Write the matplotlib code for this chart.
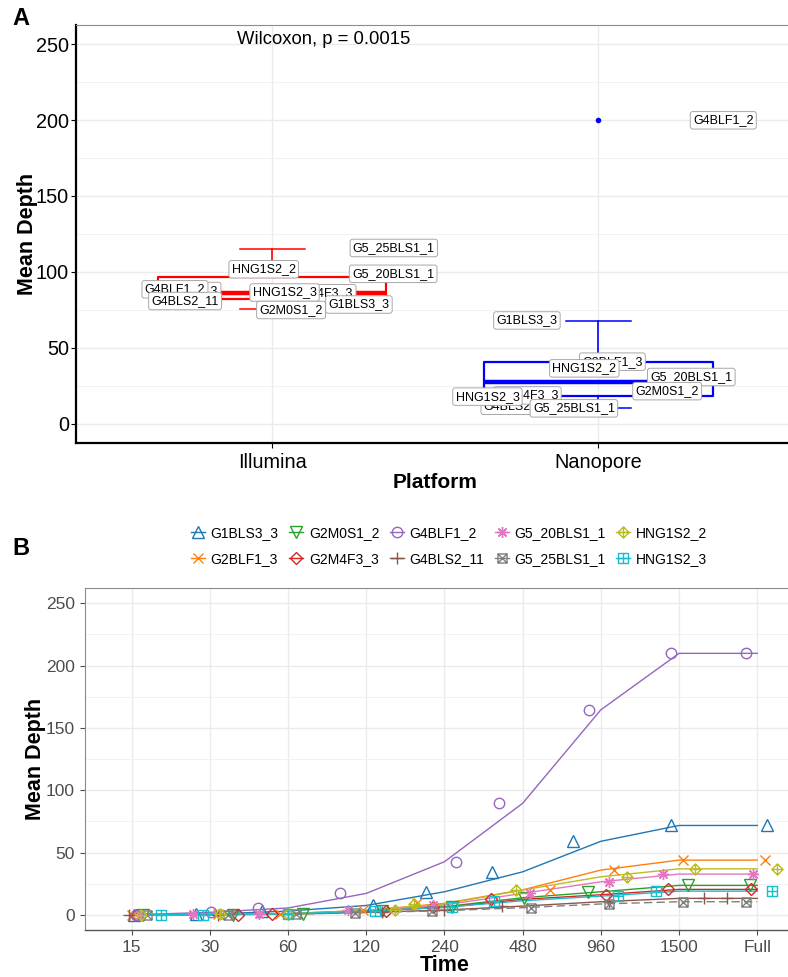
import matplotlib.pyplot as plt
import numpy as np
from matplotlib.path import Path
from matplotlib.lines import Line2D

plt.rcParams['font.family'] = ['Liberation Sans', 'DejaVu Sans']

# ---------------- Panel A data ----------------
platforms = ['Illumina', 'Nanopore']
box_q1 = [82.4, 18.6]
box_med = [86.4, 27.4]
box_q3 = [96.7, 40.6]
whisk_lo = [75.7, 10.5]
whisk_hi = [115.3, 68.0]
outliers = [[], [200.0]]
p_text = 'Wilcoxon, p = 0.0015'

# repelled sample labels: text, platform index, label position (data coords)
illumina_labels = ['G2BLF1_3', 'G2M4F3_3', 'G5_25BLS1_1', 'HNG1S2_2', 'G5_20BLS1_1',
                   'G4BLF1_2', 'G4BLS2_11', 'HNG1S2_3', 'G1BLS3_3', 'G2M0S1_2']
illumina_lab_x = [0.742, 1.153, 1.373, 0.974, 1.371, 0.702, 0.733, 1.038, 1.266, 1.058]
illumina_lab_y = [87.5, 86.0, 115.8, 101.8, 98.8, 88.6, 80.9, 86.5, 78.6, 75.0]
nanopore_labels = ['G4BLS2_11', 'G2M4F3_3', 'G2BLF1_3', 'G4BLF1_2', 'G1BLS3_3',
                   'HNG1S2_2', 'G5_20BLS1_1', 'G2M0S1_2', 'HNG1S2_3', 'G5_25BLS1_1']
nanopore_lab_x = [1.752, 1.782, 2.043, 2.383, 1.781, 1.957, 2.285, 2.211, 1.660, 1.925]
nanopore_lab_y = [12.0, 18.8, 41.0, 199.8, 68.1, 36.6, 30.9, 21.6, 18.0, 10.3]

# ---------------- Panel B data ----------------
times = ['15', '30', '60', '120', '240', '480', '960', '1500', 'Full']
samples = ['G1BLS3_3', 'G2BLF1_3', 'G2M0S1_2', 'G2M4F3_3', 'G4BLF1_2',
           'G4BLS2_11', 'G5_20BLS1_1', 'G5_25BLS1_1', 'HNG1S2_2', 'HNG1S2_3']
g1bls3_3 = [0, 0.5, 3, 7.5, 18.5, 34.5, 59, 71.7, 71.7]
g2blf1_3 = [0, 0.3, 1, 3.5, 9.2, 20, 35.9, 43.9, 43.9]
g2m0s1_2 = [0, 0.2, 0.8, 3, 6.5, 13.7, 18.5, 23.6, 23.6]
g2m4f3_3 = [0, 0.2, 0.8, 3, 6, 12.4, 16.1, 20.4, 20.4]
g4blf1_2 = [0, 2, 5.5, 17.2, 42.6, 89.5, 164.5, 209.8, 209.8]
g4bls2_11 = [0, 0.1, 0.5, 2, 3.8, 7, 10.5, 13.2, 13.2]
g5_20bls1_1 = [0, 0.3, 1, 3.5, 7.9, 17.2, 26.5, 32.7, 32.7]
g5_25bls1_1 = [0, 0.1, 0.5, 1.8, 3.3, 5.7, 8.7, 10.5, 10.5]
hng1s2_2 = [0, 0.3, 1, 3.5, 8.7, 19.9, 30.5, 36.9, 36.9]
hng1s2_3 = [0, 0.2, 0.8, 3, 6, 11.3, 15, 19, 19]
depths = [g1bls3_3, g2blf1_3, g2m0s1_2, g2m4f3_3, g4blf1_2,
          g4bls2_11, g5_20bls1_1, g5_25bls1_1, hng1s2_2, hng1s2_3]

# horizontal jitter of the points (category units)
jit_g1bls3_3 = [0.03, -0.18, -0.34, 0.08, -0.24, -0.39, -0.35, -0.10, 0.13]
jit_g2blf1_3 = [0.0, 0.1, -0.1, -0.04, -0.35, 0.35, 0.17, 0.05, 0.10]
jit_g2m0s1_2 = [0.14, 0.30, 0.19, 0.2, 0.1, 0.02, -0.16, 0.12, -0.09]
jit_g2m4f3_3 = [0.05, 0.36, -0.2, 0.25, -0.15, -0.40, 0.06, -0.14, -0.08]
jit_g4blf1_2 = [0.05, 0.02, -0.39, -0.34, 0.15, -0.30, -0.15, -0.10, -0.15]
jit_g4bls2_11 = [-0.03, 0.1, 0.0, 0.2, 0.0, -0.26, 0.1, 0.32, -0.39]
jit_g5_20bls1_1 = [0.1, -0.22, -0.37, -0.23, -0.15, 0.10, 0.10, -0.20, -0.05]
jit_g5_25bls1_1 = [0.2, 0.23, 0.1, -0.14, -0.16, 0.11, 0.10, 0.05, -0.14]
jit_hng1s2_2 = [0.12, 0.13, 0.0, 0.37, -0.39, -0.08, 0.33, 0.20, 0.25]
jit_hng1s2_3 = [0.37, -0.09, 0.0, 0.11, 0.1, -0.37, 0.22, -0.30, 0.19]
jitters = [jit_g1bls3_3, jit_g2blf1_3, jit_g2m0s1_2, jit_g2m4f3_3, jit_g4blf1_2,
           jit_g4bls2_11, jit_g5_20bls1_1, jit_g5_25bls1_1, jit_hng1s2_2, jit_hng1s2_3]

# ---------------- marker shapes ----------------
M, L, C = Path.MOVETO, Path.LINETO, Path.CLOSEPOLY
sq_cross = Path([(-1, -1), (1, -1), (1, 1), (-1, 1), (-1, -1), (-1, -1), (1, 1), (-1, 1), (1, -1)],
                [M, L, L, L, C, M, L, M, L])
sq_plus = Path([(-1, -1), (1, -1), (1, 1), (-1, 1), (-1, -1), (0, -1), (0, 1), (-1, 0), (1, 0)],
               [M, L, L, L, C, M, L, M, L])
dia_plus = Path([(0, -1), (1, 0), (0, 1), (-1, 0), (0, -1), (0, -1), (0, 1), (-1, 0), (1, 0)],
                [M, L, L, L, C, M, L, M, L])
markers = ['^', 'x', 'v', 'D', 'o', '+', (8, 2, 0), sq_cross, dia_plus, sq_plus]
msizes = [8, 7.5, 8, 6.5, 7.5, 9, 8, 6.5, 8, 6.5]
colors = ['#1f77b4', '#ff7f0e', '#2ca02c', '#d62728', '#9467bd',
          '#8c564b', '#e377c2', '#7f7f7f', '#bcbd22', '#17becf']

fig = plt.figure(figsize=(7.88, 9.77), dpi=100)

# ================= Panel A =================
axA = fig.add_axes([0.0970, 0.5466, 0.9107, 0.4278])
box_colors = ['#FF0000', '#0000FF']
for i in range(2):
    c = box_colors[i]
    stats = [dict(med=box_med[i], q1=box_q1[i], q3=box_q3[i],
                  whislo=whisk_lo[i], whishi=whisk_hi[i], fliers=outliers[i])]
    axA.bxp(stats, positions=[i + 1], widths=0.7, capwidths=0.2, patch_artist=False,
            boxprops=dict(color=c, lw=1.6), medianprops=dict(color=c, lw=3.2),
            whiskerprops=dict(color=c, lw=1.2), capprops=dict(color=c, lw=1.1),
            flierprops=dict(marker='o', markerfacecolor=c, markeredgecolor=c, markersize=3),
            manage_ticks=False)

lab_box = dict(boxstyle='round,pad=0.22,rounding_size=0.2', fc='white', ec='#A8A8A8', lw=0.7)
for k, (t, x, y) in enumerate(zip(illumina_labels, illumina_lab_x, illumina_lab_y)):
    axA.text(x, y, t, ha='center', va='center', fontsize=9, bbox=lab_box, zorder=5 + k)
for k, (t, x, y) in enumerate(zip(nanopore_labels, nanopore_lab_x, nanopore_lab_y)):
    axA.text(x, y, t, ha='center', va='center', fontsize=9, bbox=lab_box, zorder=5 + k)

axA.text(0.893, 253, p_text, ha='left', va='center', fontsize=13.3)

axA.set_xlim(0.4, 2.6)
axA.set_ylim(-12.5, 262.5)
axA.set_xticks([1, 2])
axA.set_xticklabels(platforms)
axA.set_yticks(np.arange(0, 251, 50))
axA.set_yticks(np.arange(25, 251, 50), minor=True)
axA.grid(True, which='major', color='#EBEBEB', lw=1.0)
axA.grid(True, which='minor', axis='y', color='#F2F2F2', lw=0.7)
axA.set_axisbelow(True)
axA.tick_params(axis='both', labelsize=14.3, colors='black', length=3.5, width=0.8)
axA.tick_params(axis='y', which='minor', length=0)
axA.tick_params(axis='y', pad=2)
for s in ['left', 'bottom']:
    axA.spines[s].set_color('black')
    axA.spines[s].set_linewidth(1.6)
axA.spines['top'].set_color('#8C8C8C')
axA.spines['top'].set_linewidth(0.8)
axA.spines['right'].set_visible(False)
axA.set_xlabel('Platform', fontsize=15, fontweight='bold', labelpad=1)
axA.set_ylabel('Mean Depth', fontsize=15.5, fontweight='bold', labelpad=-2)
fig.text(0.016, 0.981, 'A', fontsize=17, fontweight='bold', va='center')

# ================= Panel B =================
axB = fig.add_axes([0.1076, 0.0477, 0.9129, 0.3508])
xpos = np.arange(1, len(times) + 1)
for s, vals, jit, m, ms, c in zip(samples, depths, jitters, markers, msizes, colors):
    ls = (0, (6, 3)) if s == 'G5_25BLS1_1' else '-'
    axB.plot(xpos, vals, color=c, lw=1.0, ls=ls, zorder=2)
    axB.plot(xpos + np.array(jit), vals, ls='none', marker=m, markersize=ms,
             mfc='none', mec=c, mew=1.0, zorder=3)

axB.set_xlim(0.4, len(times) + 0.6)
axB.set_ylim(-12.5, 262.5)
axB.set_xticks(xpos)
axB.set_xticklabels(times)
axB.set_yticks(np.arange(0, 251, 50))
axB.set_yticks(np.arange(25, 251, 50), minor=True)
axB.grid(True, which='major', color='#EBEBEB', lw=1.0)
axB.grid(True, which='minor', axis='y', color='#F2F2F2', lw=0.7)
axB.set_axisbelow(True)
axB.tick_params(axis='both', labelsize=12.5, labelcolor='#4D4D4D', color='#4D4D4D',
                length=3.5, width=0.8)
axB.tick_params(axis='y', which='minor', length=0)
for s in ['left', 'top', 'right']:
    axB.spines[s].set_color('#8C8C8C')
    axB.spines[s].set_linewidth(0.8)
axB.spines['bottom'].set_color('#555555')
axB.spines['bottom'].set_linewidth(1.0)
axB.set_xlabel('Time', fontsize=15.5, fontweight='bold', labelpad=0)
axB.set_ylabel('Mean Depth', fontsize=15.5, fontweight='bold', labelpad=0)
fig.text(0.016, 0.439, 'B', fontsize=17, fontweight='bold', va='center')

handles = [Line2D([], [], color=c, lw=1.0, marker=m, markersize=ms, mfc='none', mec=c, mew=1.0)
           for m, ms, c in zip(markers, msizes, colors)]
fig.legend(handles, samples, ncol=5, loc='center', bbox_to_anchor=(0.570, 0.4415),
           frameon=False, fontsize=10, handlelength=1.0, handletextpad=0.43,
           columnspacing=0.75, labelspacing=0.85)

fig.savefig('out.png', dpi=100)
